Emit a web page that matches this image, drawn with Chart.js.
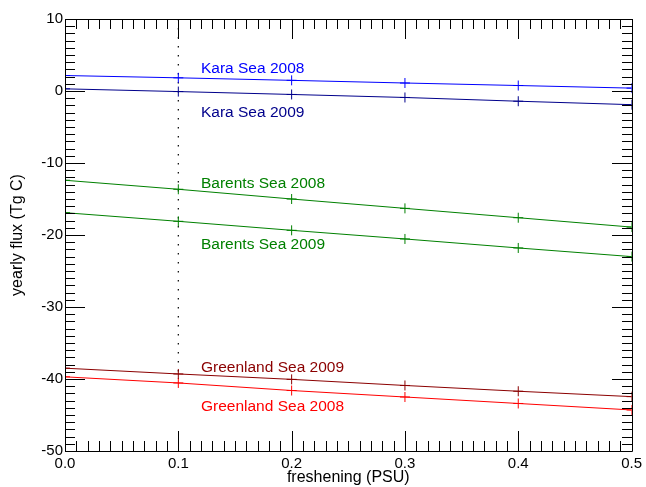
<!DOCTYPE html>
<html>
<head>
<meta charset="utf-8">
<script src="https://cdn.jsdelivr.net/npm/chart.js@4.4.0/dist/chart.umd.min.js"></script>
<style>
  html, body { margin: 0; padding: 0; background: #fff; }
  #wrap { width: 646px; height: 487px; }
</style>
</head>
<body>
<div id="wrap"><canvas id="c" width="646" height="487"></canvas></div>
<script>
// ---- data ----
const freshening = [0.0, 0.1, 0.2, 0.3, 0.4, 0.5];
const kara2008 = [2.15, 1.83, 1.48, 1.11, 0.76, 0.40];
const kara2009 = [0.30, -0.08, -0.48, -0.90, -1.42, -1.90];
const barents2008 = [-12.4, -13.65, -15.0, -16.3, -17.6, -18.9];
const barents2009 = [-16.9, -18.1, -19.35, -20.55, -21.8, -23.0];
const greenland2009 = [-38.5, -39.3, -40.05, -40.9, -41.7, -42.45];
const greenland2008 = [-39.7, -40.55, -41.6, -42.5, -43.4, -44.3];
const markerLineX = [0.1, 0.1];
const markerLineY = [10, -40];
const xTicks = [0.0, 0.1, 0.2, 0.3, 0.4, 0.5];
const yTicks = [10, 0, -10, -20, -30, -40, -50];
const seriesNames = ['Kara Sea 2008', 'Kara Sea 2009', 'Barents Sea 2008', 'Barents Sea 2009', 'Greenland Sea 2009', 'Greenland Sea 2008'];

const colors = ['#0000ff', '#00008b', '#008000', '#008000', '#8b0000', '#ff0000'];
const seriesData = [kara2008, kara2009, barents2008, barents2009, greenland2009, greenland2008];
// label anchors in data units (x, baseline y)
const labelAnchors = [[0.12, 2.46], [0.12, -3.57], [0.12, -13.5], [0.12, -21.94], [0.12, -38.99], [0.12, -44.4]];

const datasets = seriesData.map((vals, i) => ({
  label: seriesNames[i],
  data: freshening.map((x, j) => ({ x: x, y: vals[j] })),
  borderColor: colors[i],
  backgroundColor: colors[i],
  borderWidth: 1,
  pointStyle: 'cross',
  pointRadius: 5,
  pointBorderWidth: 1,
  pointHoverRadius: 5,
  tension: 0
}));
datasets.push({
  label: 'marker',
  data: markerLineX.map((x, j) => ({ x: x, y: markerLineY[j] })),
  borderColor: '#000',
  borderWidth: 1.2,
  borderDash: [1.5, 7.5],
  pointRadius: 0,
  tension: 0
});

const FONT = '"Liberation Sans", Arial, Helvetica, sans-serif';

const framePlugin = {
  id: 'frame',
  afterDatasetsDraw(chart) {
    const ctx = chart.ctx;
    const xs = chart.scales.x, ys = chart.scales.y;
    const L = Math.round(xs.getPixelForValue(0)), R = Math.round(xs.getPixelForValue(0.5));
    const T = Math.round(ys.getPixelForValue(10)), B = Math.round(ys.getPixelForValue(-50));
    ctx.save();
    ctx.strokeStyle = '#000';
    ctx.lineWidth = 1;
    ctx.beginPath();
    ctx.rect(L + 0.5, T + 0.5, R - L, B - T);
    ctx.stroke();
    ctx.beginPath();
    for (let i = 0; i <= 50; i++) {
      const px = Math.round(xs.getPixelForValue(i / 100)) + 0.5;
      const len = (i % 10 === 0) ? 20 : 10;
      ctx.moveTo(px, B); ctx.lineTo(px, B - len);
      ctx.moveTo(px, T); ctx.lineTo(px, T + len);
    }
    for (let v = -50; v <= 10; v++) {
      const py = Math.round(ys.getPixelForValue(v)) + 0.5;
      const len = (v % 10 === 0) ? 20 : 10;
      ctx.moveTo(L, py); ctx.lineTo(L + len, py);
      ctx.moveTo(R, py); ctx.lineTo(R - len, py);
    }
    ctx.stroke();
    // series labels
    ctx.font = '15.5px ' + FONT;
    ctx.textAlign = 'left';
    ctx.textBaseline = 'alphabetic';
    labelAnchors.forEach((a, i) => {
      ctx.fillStyle = colors[i];
      ctx.fillText(seriesNames[i], xs.getPixelForValue(a[0]), ys.getPixelForValue(a[1]));
    });
    ctx.restore();
  }
};

new Chart(document.getElementById('c'), {
  type: 'line',
  data: { datasets: datasets },
  options: {
    responsive: false,
    animation: false,
    events: [],
    layout: { padding: { left: 0, top: 19, right: 13, bottom: 0 } },
    plugins: { legend: { display: false }, tooltip: { enabled: false } },
    scales: {
      x: {
        type: 'linear',
        min: 0, max: 0.5,
        afterFit: s => { s.height = 36; },
        afterBuildTicks: s => { s.ticks = xTicks.map(v => ({ value: v })); },
        grid: { display: false, drawTicks: false },
        border: { display: false },
        ticks: {
          color: '#000',
          font: { family: FONT, size: 15 },
          padding: 4,
          maxRotation: 0,
          callback: v => Number(v).toFixed(1)
        },
        title: {
          display: true, text: 'freshening (PSU)', color: '#000',
          font: { family: FONT, size: 16 }, padding: { top: 0, bottom: 0 }
        }
      },
      y: {
        type: 'linear',
        min: -50, max: 10,
        afterFit: s => { s.width = 65; },
        afterBuildTicks: s => { s.ticks = yTicks.map(v => ({ value: v })); },
        grid: { display: false, drawTicks: false },
        border: { display: false },
        ticks: {
          color: '#000',
          font: { family: FONT, size: 15 },
          padding: 2,
          callback: v => String(v)
        },
        title: {
          display: true, text: 'yearly flux (Tg C)', color: '#000',
          font: { family: FONT, size: 16 }, padding: { top: 8, bottom: 0 }
        }
      }
    }
  },
  plugins: [framePlugin]
});
</script>
</body>
</html>
